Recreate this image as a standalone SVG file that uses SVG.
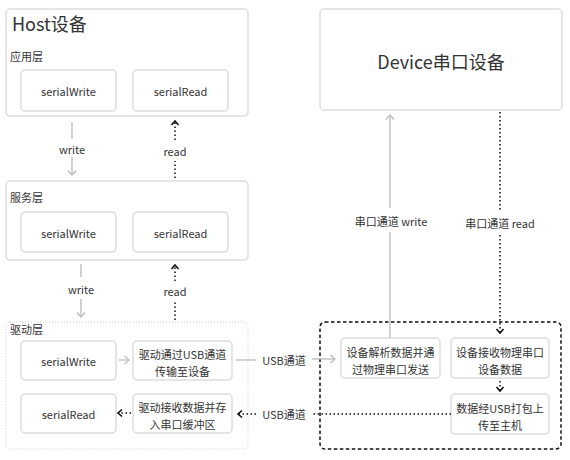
<svg xmlns="http://www.w3.org/2000/svg" width="570" height="460" viewBox="0 0 570 460">
<style>
text{font-family:"Noto Sans CJK SC","Noto Sans",sans-serif;fill:#333;font-size:11px}
.c{text-anchor:middle;dominant-baseline:central}
.title{font-size:18px}
.box{fill:#fff;stroke:#ddd;stroke-width:1.5}
.g{stroke:#bbb;stroke-width:1.3;fill:none}
.d{stroke:#111;stroke-width:1.5;fill:none;stroke-dasharray:1.5 2.5}
</style>
<defs>
<marker id="ag" viewBox="-6 -5 8 10" markerWidth="8" markerHeight="10" refX="0" refY="0" orient="auto" markerUnits="userSpaceOnUse"><path d="M-4.5,-4 L0,0 L-4.5,4" fill="none" stroke="#bbb" stroke-width="1.3"/></marker>
<marker id="ab" viewBox="-6 -5 8 10" markerWidth="8" markerHeight="10" refX="0" refY="0" orient="auto" markerUnits="userSpaceOnUse"><path d="M-4,-3.5 L0,0 L-4,3.5" fill="none" stroke="#111" stroke-width="1.6"/></marker>
</defs>
<rect width="570" height="460" fill="#fff"/>
<g id="host">
<rect class="box" x="6" y="9" width="242" height="107" rx="4"/>
<text x="12" y="31" class="title">Host设备</text>
<text x="10" y="61">应用层</text>
</g>
<g id="app-write"><rect class="box" x="21" y="70" width="95" height="41" rx="4"/><text class="c" x="68.5" y="91">serialWrite</text></g>
<g id="app-read"><rect class="box" x="133" y="70" width="95" height="41" rx="4"/><text class="c" x="180.5" y="91">serialRead</text></g>
<g id="service">
<rect class="box" x="6" y="181" width="242" height="79" rx="4"/>
<text x="10" y="202">服务层</text>
</g>
<g id="svc-write"><rect class="box" x="21" y="212" width="95" height="40" rx="4"/><text class="c" x="68.5" y="232.5">serialWrite</text></g>
<g id="svc-read"><rect class="box" x="133" y="212" width="95" height="40" rx="4"/><text class="c" x="180.5" y="232.5">serialRead</text></g>
<g id="driver">
<rect x="6" y="322" width="242" height="127" rx="4" fill="#fff" stroke="#ccc" stroke-width="1" stroke-dasharray="1 2"/>
<text x="10" y="334">驱动层</text>
</g>
<g id="drv-write"><rect class="box" x="21" y="341" width="95" height="39" rx="4"/><text class="c" x="68.5" y="361">serialWrite</text></g>
<g id="drv-read"><rect class="box" x="21" y="394" width="95" height="39" rx="4"/><text class="c" x="68.5" y="414">serialRead</text></g>
<g id="drv-send"><rect class="box" x="133" y="341" width="99" height="39" rx="4"/><text class="c" x="182.5" y="354">驱动通过USB通道</text><text class="c" x="182.5" y="371">传输至设备</text></g>
<g id="drv-recv"><rect class="box" x="133" y="394" width="99" height="39" rx="4"/><text class="c" x="182.5" y="407">驱动接收数据并存</text><text class="c" x="182.5" y="424">入串口缓冲区</text></g>
<g id="device"><rect class="box" x="320" y="9" width="242" height="101" rx="4"/><text class="c title" x="441" y="61">Device串口设备</text></g>
<g id="device-area"><rect x="320" y="322" width="241" height="127" rx="5" fill="none" stroke="#111" stroke-width="1.5" stroke-dasharray="3.5 2.5"/></g>
<g id="dev-parse"><rect class="box" x="341" y="338" width="99" height="40" rx="4"/><text class="c" x="390.5" y="352">设备解析数据并通</text><text class="c" x="390.5" y="369">过物理串口发送</text></g>
<g id="dev-recv"><rect class="box" x="451" y="338" width="98" height="40" rx="4"/><text class="c" x="500" y="352">设备接收物理串口</text><text class="c" x="500" y="369">设备数据</text></g>
<g id="dev-pack"><rect class="box" x="451" y="394" width="98" height="40" rx="4"/><text class="c" x="500" y="408">数据经USB打包上</text><text class="c" x="500" y="425">传至主机</text></g>
<g id="connectors">
<line class="g" x1="72" y1="122" x2="72" y2="139"/>
<text class="c" x="72" y="149">write</text>
<line class="g" x1="72" y1="157" x2="72" y2="175" marker-end="url(#ag)"/>
<line class="d" x1="175" y1="140" x2="175" y2="121" marker-end="url(#ab)"/>
<text class="c" x="175" y="151">read</text>
<line class="d" x1="175" y1="178" x2="175" y2="161"/>
<line class="g" x1="81" y1="264" x2="81" y2="277"/>
<text class="c" x="81" y="289">write</text>
<line class="g" x1="81" y1="299" x2="81" y2="317" marker-end="url(#ag)"/>
<line class="d" x1="175" y1="281" x2="175" y2="265" marker-end="url(#ab)"/>
<text class="c" x="175" y="291">read</text>
<line class="d" x1="175" y1="320" x2="175" y2="301"/>
<line class="g" x1="119" y1="360" x2="129" y2="360" marker-end="url(#ag)"/>
<line class="d" x1="131" y1="413" x2="118" y2="413" marker-end="url(#ab)"/>
<line class="g" x1="236" y1="360" x2="256" y2="360"/>
<text class="c" x="284" y="360">USB通道</text>
<line class="g" x1="312" y1="359" x2="335" y2="359" marker-end="url(#ag)"/>
<line class="d" x1="451" y1="414" x2="313" y2="414"/>
<text class="c" x="284" y="414">USB通道</text>
<line class="d" x1="256" y1="414" x2="238" y2="414" marker-end="url(#ab)"/>
<line class="g" x1="390" y1="338" x2="390" y2="232"/>
<text class="c" x="391" y="221">串口通道 write</text>
<line class="g" x1="390" y1="208" x2="390" y2="115" marker-end="url(#ag)"/>
<line class="d" x1="500" y1="112" x2="500" y2="211"/>
<text class="c" x="500" y="223">串口通道 read</text>
<line class="d" x1="500" y1="235" x2="500" y2="333" marker-end="url(#ab)"/>
<line class="d" x1="500" y1="381" x2="500" y2="391" marker-end="url(#ab)"/>
</g>
</svg>
